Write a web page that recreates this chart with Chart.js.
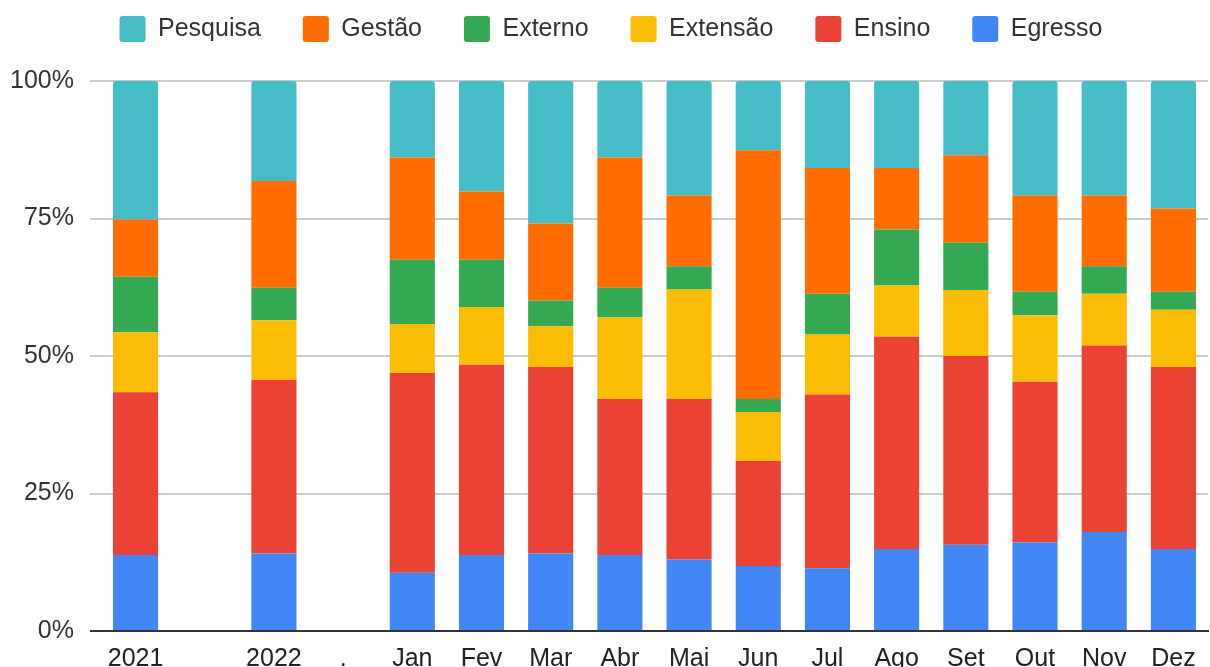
<!DOCTYPE html>
<html>
<head>
<meta charset="utf-8">
<script src="https://cdn.jsdelivr.net/npm/chart.js@4.4.0/dist/chart.umd.min.js"></script>
<style>
  html, body { margin: 0; padding: 0; background: #fff; overflow: hidden; }
  #wrap { width: 1210px; height: 687px; }
</style>
</head>
<body>
<div id="wrap"><canvas id="grafico" width="1210" height="687"></canvas></div>
<script>
// categorias do eixo x (posições vazias entre 2022 e os meses)
const categorias = ['2021', '', '2022', '.', 'Jan', 'Fev', 'Mar', 'Abr', 'Mai', 'Jun', 'Jul', 'Ago', 'Set', 'Out', 'Nov', 'Dez'];

// percentuais de cada segmento (de baixo para cima)
const egresso  = [13.8, null, 14.1, null, 10.6, 13.8, 14.1, 13.8, 13.0, 11.8, 11.4, 14.9, 15.7, 16.1, 18.0, 14.9];
const ensino   = [29.6, null, 31.6, null, 36.3, 34.6, 33.9, 28.4, 29.2, 19.1, 31.6, 38.6, 34.3, 29.2, 33.9, 33.1];
const extensao = [10.9, null, 10.8, null,  8.9, 10.5,  7.4, 14.8, 19.9,  8.9, 10.9,  9.3, 12.0, 12.1,  9.4, 10.4];
const externo  = [10.1, null,  5.9, null, 11.7,  8.6,  4.7,  5.4,  4.2,  2.4,  7.4, 10.2,  8.6,  4.3,  5.0,  3.3];
const gestao   = [10.4, null, 19.4, null, 18.6, 12.4, 14.0, 23.7, 12.9, 45.2, 22.9, 11.2, 15.9, 17.5, 12.9, 15.1];
const pesquisa = [25.2, null, 18.2, null, 13.9, 20.1, 25.9, 13.9, 20.8, 12.6, 15.8, 15.8, 13.5, 20.8, 20.8, 23.2];

const yTicks = [0, 25, 50, 75, 100];

const fonte = '"Liberation Sans", Arial, sans-serif';

function serie(label, data, cor, topo) {
  return {
    label,
    data,
    backgroundColor: cor,
    borderWidth: 0,
    borderRadius: topo ? { topLeft: 3, topRight: 3, bottomLeft: 0, bottomRight: 0 } : 0,
    borderSkipped: topo ? 'bottom' : 'start',
    barPercentage: 0.8,
    categoryPercentage: 0.815
  };
}

// linha do zero escura, as outras cinza claro
const corGrade = (c) => (c.tick && c.tick.value === 0 ? '#333' : '#ccc');

// espaço extra entre a legenda e a área do gráfico, e legenda um pouco à direita
const ajusteLegenda = {
  id: 'ajusteLegenda',
  beforeInit(chart) {
    const fitOriginal = chart.legend.fit;
    chart.legend.fit = function () {
      fitOriginal.call(this);
      this.height += 29;
    };
  },
  afterLayout(chart) {
    chart.legend.left += 10;
    chart.legend.right += 10;
  }
};

const ctx = document.getElementById('grafico').getContext('2d');
new Chart(ctx, {
  type: 'bar',
  data: {
    labels: categorias,
    datasets: [
      serie('Egresso', egresso, '#4285F4'),
      serie('Ensino', ensino, '#EA4335'),
      serie('Extensão', extensao, '#FBBC04'),
      serie('Externo', externo, '#34A853'),
      serie('Gestão', gestao, '#FF6D01'),
      serie('Pesquisa', pesquisa, '#46BDC6', true)
    ]
  },
  plugins: [ajusteLegenda],
  options: {
    responsive: false,
    animation: false,
    layout: { padding: { left: -6, right: 2, top: -26, bottom: 0 } },
    plugins: {
      legend: {
        position: 'top',
        reverse: true,
        labels: {
          font: { family: fonte, size: 25 },
          color: '#333',
          boxWidth: 26,
          boxHeight: 26,
          padding: 42,
          useBorderRadius: true,
          borderRadius: 3
        }
      },
      tooltip: { enabled: false }
    },
    scales: {
      x: {
        stacked: true,
        grid: { display: false, drawTicks: false },
        border: { color: '#333', width: 2 },
        ticks: {
          font: { family: fonte, size: 25 },
          color: '#222',
          padding: 13,
          autoSkip: false,
          maxRotation: 0
        }
      },
      y: {
        stacked: true,
        min: 0,
        max: 100,
        afterBuildTicks: (ax) => { ax.ticks = yTicks.map(v => ({ value: v })); },
        grid: { color: corGrade, tickColor: corGrade, lineWidth: 2, drawTicks: true, tickLength: 11 },
        border: { display: false },
        ticks: {
          font: { family: fonte, size: 25 },
          color: '#333',
          padding: 16,
          callback: (v) => v + '%'
        }
      }
    }
  }
});
</script>
</body>
</html>
